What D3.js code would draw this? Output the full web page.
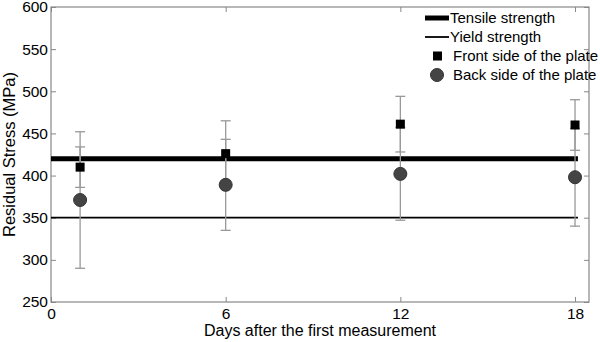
<!DOCTYPE html>
<html>
<head>
<meta charset="utf-8">
<script src="https://cdn.jsdelivr.net/npm/d3@7"></script>
<style>
  body { margin: 0; background: #fff; }
  svg { font-family: "Liberation Sans", Arial, sans-serif; }
</style>
</head>
<body>
<div id="chart"></div>
<script>
// measurement days
const days = [1, 6, 12, 18];
// front side of the plate: mean and error
const frontValues = [410, 426, 461, 460];
const frontErrors = [24, 39, 33, 30];
// back side of the plate: mean and error
const backValues = [371, 389, 402, 398];
const backErrors = [81, 54, 55, 58];
// reference strengths
const tensileStrength = 420;
const yieldStrength = 350;
const refLineDays = [0, 18.1];
const xTicks = [0, 6, 12, 18];
const yTicks = [250, 300, 350, 400, 450, 500, 550, 600];

const width = 600, height = 342;
const margin = { top: 7, right: 11, bottom: 40, left: 51 };
const innerW = width - margin.left - margin.right,
    innerH = height - margin.top - margin.bottom;

const svg = d3.select("#chart").append("svg")
    .attr("width", width)
    .attr("height", height);

const g = svg.append("g").attr("transform", "translate(" + margin.left + "," + margin.top + ")");

const x = d3.scaleLinear().domain([0, 18.48]).range([0, innerW]);
const y = d3.scaleLinear().domain([250, 600]).range([innerH, 0]);

const axisColor = "#888";

// frame
g.append("rect")
    .attr("width", innerW).attr("height", innerH)
    .attr("fill", "none").attr("stroke", axisColor).attr("stroke-width", 1.2);

function styleAxis(sel, showText) {
    sel.select(".domain").remove();
    sel.selectAll(".tick line").attr("stroke", axisColor);
    sel.selectAll(".tick text")
        .attr("fill", "#000")
        .style("font-size", "15.5px")
        .style("display", showText ? null : "none");
}

g.append("g")
    .attr("transform", "translate(0," + innerH + ")")
    .call(d3.axisBottom(x).tickValues(xTicks).tickSizeInner(-5).tickPadding(6))
    .call(styleAxis, true);
g.append("g")
    .call(d3.axisTop(x).tickValues(xTicks).tickSizeInner(-5))
    .call(styleAxis, false);
g.append("g")
    .call(d3.axisLeft(y).tickValues(yTicks).tickSizeInner(-5).tickPadding(3))
    .call(styleAxis, true);
g.append("g")
    .attr("transform", "translate(" + innerW + ",0)")
    .call(d3.axisRight(y).tickValues(yTicks).tickSizeInner(-5))
    .call(styleAxis, false);

// axis labels
svg.append("text")
    .attr("x", margin.left + innerW / 2)
    .attr("y", 336)
    .attr("text-anchor", "middle")
    .style("font-size", "16px")
    .text("Days after the first measurement");
svg.append("text")
    .attr("transform", "translate(15," + (margin.top + innerH / 2) + ") rotate(-90)")
    .attr("text-anchor", "middle")
    .style("font-size", "16.5px")
    .text("Residual Stress (MPa)");

// reference lines
const refLine = d3.line().x(d => x(d[0])).y(d => y(d[1]));
g.append("path")
    .attr("d", refLine(refLineDays.map(d => [d, tensileStrength])))
    .attr("stroke", "#000").attr("stroke-width", 5).attr("fill", "none");
g.append("path")
    .attr("d", refLine(refLineDays.map(d => [d, yieldStrength])))
    .attr("stroke", "#000").attr("stroke-width", 1.8).attr("fill", "none");

// error bars
function errorBars(values, errors, cls) {
    const data = days.map((d, i) => ({ day: d, v: values[i], e: errors[i] }));
    const eb = g.append("g").attr("class", cls).attr("stroke", "#999").attr("stroke-width", 1.3);
    eb.selectAll("line.stem").data(data).enter().append("line")
        .attr("class", "stem")
        .attr("x1", d => x(d.day)).attr("x2", d => x(d.day))
        .attr("y1", d => y(d.v + d.e)).attr("y2", d => y(d.v - d.e));
    eb.selectAll("line.cap-top").data(data).enter().append("line")
        .attr("class", "cap-top")
        .attr("x1", d => x(d.day) - 5).attr("x2", d => x(d.day) + 5)
        .attr("y1", d => y(d.v + d.e)).attr("y2", d => y(d.v + d.e));
    eb.selectAll("line.cap-bot").data(data).enter().append("line")
        .attr("class", "cap-bot")
        .attr("x1", d => x(d.day) - 5).attr("x2", d => x(d.day) + 5)
        .attr("y1", d => y(d.v - d.e)).attr("y2", d => y(d.v - d.e));
}
errorBars(backValues, backErrors, "eb-back");
errorBars(frontValues, frontErrors, "eb-front");

// markers
g.selectAll("rect.front").data(days).enter().append("rect")
    .attr("class", "front")
    .attr("x", d => x(d) - 4.5)
    .attr("y", (d, i) => y(frontValues[i]) - 4.5)
    .attr("width", 9).attr("height", 9)
    .attr("fill", "#000");
g.selectAll("circle.back").data(days).enter().append("circle")
    .attr("class", "back")
    .attr("cx", d => x(d))
    .attr("cy", (d, i) => y(backValues[i]))
    .attr("r", 6.5)
    .attr("fill", "#444").attr("stroke", "#333").attr("stroke-width", 1);

// legend
const legend = svg.append("g").attr("transform", "translate(425,18)");
const legendItems = ["Tensile strength", "Yield strength", "Front side of the plate", "Back side of the plate"];
legendItems.forEach((label, i) => {
    const row = legend.append("g").attr("transform", "translate(0," + (i * 19) + ")");
    if (i === 0) row.append("line").attr("x1", 0).attr("x2", 24).attr("stroke", "#000").attr("stroke-width", 5);
    if (i === 1) row.append("line").attr("x1", 0).attr("x2", 24).attr("stroke", "#000").attr("stroke-width", 1.8);
    if (i === 2) row.append("rect").attr("x", 8).attr("y", -4.5).attr("width", 9).attr("height", 9).attr("fill", "#000");
    if (i === 3) row.append("circle").attr("cx", 12).attr("cy", 0).attr("r", 6.5).attr("fill", "#444").attr("stroke", "#333");
    row.append("text")
        .attr("x", i < 2 ? 25 : 28)
        .attr("dy", "0.35em")
        .style("font-size", "15px")
        .text(label);
});
</script>
</body>
</html>
